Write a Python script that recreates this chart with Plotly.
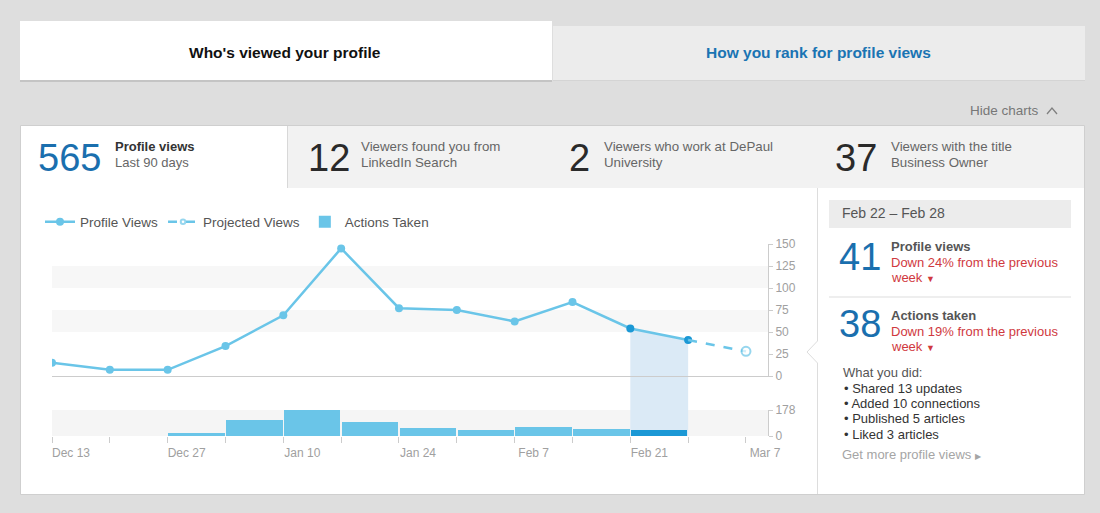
import plotly.graph_objects as go
import pandas as pd

W, H = 1100, 513
FONT = "Liberation Sans, Arial, sans-serif"

# ---------------- data ----------------
weeks = ['2014-12-13', '2014-12-20', '2014-12-27', '2015-01-03', '2015-01-10', '2015-01-17',
         '2015-01-24', '2015-01-31', '2015-02-07', '2015-02-14', '2015-02-21', '2015-02-28']
profile_views = [15, 7, 7, 34, 69, 145, 77, 75, 62, 84, 54, 41]
proj_dates = ['2015-02-28', '2015-03-07']
proj_views = [41, 28]
action_week_starts = ['2014-12-13', '2014-12-20', '2014-12-27', '2015-01-03', '2015-01-10', '2015-01-17',
                      '2015-01-24', '2015-01-31', '2015-02-07', '2015-02-14', '2015-02-21']
actions_taken = [0, 0, 20, 109, 178, 98, 55, 39, 62, 47, 38]
sel_start, sel_end = '2015-02-21', '2015-02-28'
sel_views = [54, 41]

stats = [("565", "Profile views", "Last 90 days"),
         ("12", "Viewers found you from", "LinkedIn Search"),
         ("2", "Viewers who work at DePaul", "University"),
         ("37", "Viewers with the title", "Business Owner")]
did_items = ["Shared 13 updates", "Added 10 connections", "Published 5 articles", "Liked 3 articles"]

LIGHT = '#6ac5e8'
DARK = '#1b98d5'
DAY = 86400000


def X(px):
    return px / W


def Y(py):
    return 1 - py / H


fig = go.Figure()

# highlighted week area under the line
fig.add_trace(go.Scatter(x=[sel_start, sel_end], y=sel_views, xaxis='x2', yaxis='y2', mode='lines',
                         line=dict(width=0), fill='tozeroy', fillcolor='#dbeaf6',
                         showlegend=False, hoverinfo='skip'))

mcolors = [DARK if d in (sel_start, sel_end) else LIGHT for d in weeks]
fig.add_trace(go.Scatter(x=weeks, y=profile_views, xaxis='x2', yaxis='y2', name='Profile Views',
                         mode='lines+markers', line=dict(color=LIGHT, width=2.5),
                         marker=dict(size=8, color=mcolors)))
fig.add_trace(go.Scatter(x=proj_dates, y=proj_views, xaxis='x2', yaxis='y2', name='Projected Views',
                         mode='lines+markers', line=dict(color=LIGHT, width=2.5, dash='dash'),
                         marker=dict(size=[0.1, 9], color='white', line=dict(color=LIGHT, width=2))))

bar_x = pd.to_datetime(action_week_starts) + pd.Timedelta(hours=84)
bcolors = [DARK if d == sel_start else LIGHT for d in action_week_starts]
fig.add_trace(go.Bar(x=bar_x, y=actions_taken, xaxis='x', yaxis='y', name='Actions Taken',
                     width=7 * DAY * 0.975, marker=dict(color=bcolors, line=dict(width=0))))

axis_font = dict(size=12, color='#a0a0a0', family=FONT)

shapes = []


def rect(x0, y0, x1, y1, fill, line=None, lw=0):
    shapes.append(dict(type='rect', xref='paper', yref='paper', x0=X(x0), x1=X(x1), y0=Y(y1), y1=Y(y0),
                       fillcolor=fill, line=dict(color=line or fill, width=lw), layer='below'))


def seg(x0, y0, x1, y1, color, w=1):
    shapes.append(dict(type='line', xref='paper', yref='paper', x0=X(x0), x1=X(x1), y0=Y(y0), y1=Y(y1),
                       line=dict(color=color, width=w), layer='below'))


def path(pts, color, w=1):
    d = "M " + " L ".join(f"{X(a):.5f},{Y(b):.5f}" for a, b in pts)
    shapes.append(dict(type='path', xref='paper', yref='paper', path=d, line=dict(color=color, width=w),
                       layer='below'))


# tabs
rect(20, 21, 552, 80, 'white')
seg(20, 81, 552, 81, '#c4c4c4', 2)
rect(553, 26, 1085, 80, '#ececec')
seg(553, 80.5, 1085, 80.5, '#d4d4d4', 1)
# hide charts chevron
path([(1047, 114), (1052, 108), (1057, 114)], '#808080', 1.3)
# main panel
rect(20.5, 125.5, 1084.5, 494.5, 'white', '#cfcfcf', 1)
rect(288, 126, 1084, 188, '#f2f2f2')
seg(287.5, 126, 287.5, 188, '#d8d8d8')
# right panel separator with notch
seg(817.5, 188, 817.5, 341, '#dddddd')
seg(817.5, 363, 817.5, 494, '#dddddd')
path([(817.5, 341), (807, 352), (817.5, 363)], '#dddddd', 1)
rect(829, 200, 1071, 228, '#ececec')
seg(829, 297, 1071, 297, '#dddddd')

# chart bands
shapes.append(dict(type='rect', xref='x2 domain', yref='y2', x0=0, x1=1, y0=100, y1=125,
                   fillcolor='#f7f7f7', line=dict(width=0), layer='below'))
shapes.append(dict(type='rect', xref='x2 domain', yref='y2', x0=0, x1=1, y0=50, y1=75,
                   fillcolor='#f7f7f7', line=dict(width=0), layer='below'))
shapes.append(dict(type='rect', xref='x domain', yref='y', x0=0, x1=1, y0=0, y1=178,
                   fillcolor='#f5f5f5', line=dict(width=0), layer='below'))
# highlighted week column between the two charts
shapes.append(dict(type='rect', xref='x', yref='paper', x0=sel_start, x1=sel_end, y0=Y(436), y1=Y(376),
                   fillcolor='#dbeaf6', line=dict(width=0), layer='below'))

ann = []


def txt(x, y, s, size=13, color='#666', bold=False, xanchor='left'):
    if bold:
        s = f"<b>{s}</b>"
    ann.append(dict(x=X(x), y=Y(y), xref='paper', yref='paper', text=s, showarrow=False,
                    xanchor=xanchor, yanchor='middle', font=dict(size=size, color=color, family=FONT)))


txt(285, 52, "Who's viewed your profile", 15.5, '#111', True, 'center')
txt(818, 52, "How you rank for profile views", 15.5, '#1a74b3', True, 'center')
txt(1041, 111, "Hide charts", 13.5, '#777', False, 'right')

num_x = [36, 306, 567, 833]
lab_x = [113, 359, 602, 889]
for i, (n, l1, l2) in enumerate(stats):
    txt(num_x[i], 158, n, 38, '#1a6fae' if i == 0 else '#2a2a2a')
    if i == 0:
        txt(lab_x[i], 147, l1, 13, '#333', True)
    else:
        txt(lab_x[i], 147, l1, 13.3, '#666')
    txt(lab_x[i], 162, l2, 13.3 if i else 13, '#666')

txt(840, 213, "Feb 22 \u2013 Feb 28", 14, '#555')
txt(837, 257, "41", 38, '#1a6fae')
txt(889, 246, "Profile views", 13, '#555', True)
txt(889, 262, "Down 24% from the previous", 13, '#d0393e')
txt(889, 277, "week <span style='font-size:9px'>\u25bc</span>", 13, '#d0393e')
txt(837, 324, "38", 38, '#1a6fae')
txt(889, 315, "Actions taken", 13, '#555', True)
txt(889, 331, "Down 19% from the previous", 13, '#d0393e')
txt(889, 346, "week <span style='font-size:9px'>\u25bc</span>", 13, '#d0393e')
txt(841, 372, "What you did:", 13, '#555')
for k, it in enumerate(did_items):
    txt(842, 388 + k * 15.4, "\u2022 " + it, 13, '#333')
txt(840, 454, "Get more profile views <span style='font-size:8px'>\u25b6</span>", 13, '#a5a5a5')

xdom = [X(52), X(768)]
xrange_ = ['2014-12-13', '2015-03-09 16:00']

fig.update_layout(
    width=W, height=H, margin=dict(l=0, r=0, t=0, b=0),
    paper_bgcolor='#dedede', plot_bgcolor='rgba(0,0,0,0)',
    font=dict(family=FONT),
    showlegend=True,
    legend=dict(orientation='h', x=X(40), y=Y(222), xanchor='left', yanchor='middle',
                bgcolor='rgba(0,0,0,0)', font=dict(size=13.5, color='#555', family=FONT),
                traceorder='normal', itemwidth=30),
    xaxis=dict(domain=xdom, range=xrange_, type='date', anchor='y', tick0='2014-12-13', dtick=14 * DAY,
               tickformat='%b %-d', ticks='outside', ticklen=6, tickcolor='#cccccc', tickfont=axis_font,
               showgrid=False, zeroline=False, showline=False, ticklabelshift=19, automargin=False,
               minor=dict(tick0='2014-12-13', dtick=7 * DAY, ticks='outside', ticklen=6,
                          tickcolor='#cccccc', showgrid=False)),
    xaxis2=dict(domain=xdom, range=xrange_, type='date', anchor='y2', matches='x', showticklabels=False,
                ticks='', showgrid=False, zeroline=False, showline=True, linecolor='#cccccc', linewidth=1,
                automargin=False),
    yaxis=dict(domain=[Y(436), Y(410)], range=[0, 178], side='right', anchor='x', tickvals=[0, 178],
               ticks='outside', ticklen=4, tickcolor='#cccccc', showline=True, linecolor='#cccccc',
               showgrid=False, zeroline=False, tickfont=axis_font, automargin=False),
    yaxis2=dict(domain=[Y(376), Y(244)], range=[0, 150], dtick=25, side='right', anchor='x2',
                ticks='outside', ticklen=4, tickcolor='#cccccc', showline=True, linecolor='#cccccc',
                showgrid=False, zeroline=False, tickfont=axis_font, automargin=False),
    shapes=shapes, annotations=ann, bargap=0,
)

fig.write_html("out.html", config={'displayModeBar': False},
               post_script="document.body.style.margin='0';document.body.style.overflow='hidden';")
